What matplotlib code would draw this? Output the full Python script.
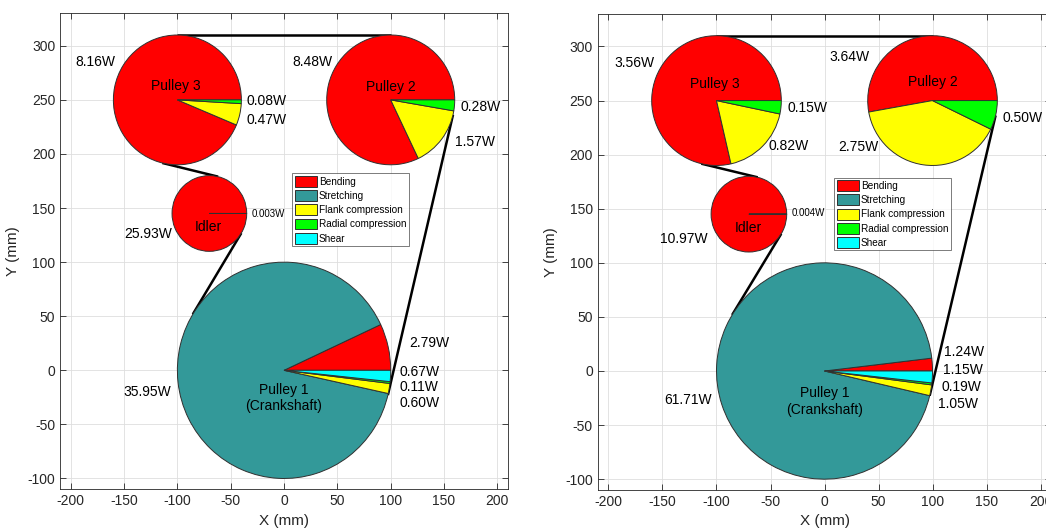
import numpy as np
import matplotlib
matplotlib.use("Agg")
import matplotlib.pyplot as plt
from matplotlib.patches import Patch

plt.rcParams['font.family'] = ['Liberation Sans', 'DejaVu Sans']
plt.rcParams['axes.unicode_minus'] = False

# Loss components (legend order)
categories = ["Bending", "Stretching", "Flank compression", "Radial compression", "Shear"]
cat_colors = ["#ff0000", "#339999", "#ffff00", "#00ff00", "#00ffff"]

# Drive geometry (mm)
pulley_names = ["Pulley 1\n(Crankshaft)", "Pulley 2", "Pulley 3", "Idler"]
center_x = [0, 100, -100, -70]
center_y = [0, 250, 250, 145]
radius = [100, 60, 60, 35]

# Power loss per pulley [W], ordered as `categories`
left_p1 = [2.79, 35.95, 0.60, 0.11, 0.67]
left_p2 = [8.48, 0.0, 1.57, 0.28, 0.0]
left_p3 = [8.16, 0.0, 0.47, 0.08, 0.0]
left_idler = [25.93, 0.0, 0.003, 0.0, 0.0]

right_p1 = [1.24, 61.71, 1.05, 0.19, 1.15]
right_p2 = [3.64, 0.0, 2.75, 0.50, 0.0]
right_p3 = [3.56, 0.0, 0.82, 0.15, 0.0]
right_idler = [10.97, 0.0, 0.004, 0.0, 0.0]

# Text placement for the value labels: (x, y, horizontal alignment) per non-zero slice
left_label_pos = [
    [(117, 25, "left"), (-106, -20, "right"), (108, -30.5, "left"), (108, -15.7, "left"), (108, -1.3, "left")],
    [(45, 284.7, "right"), (160.6, 211.5, "left"), (165.3, 243.8, "left")],
    [(-158.2, 284.7, "right"), (-35.3, 231.8, "left"), (-35.3, 248.7, "left")],
    [(-105, 126.4, "right"), (-30.7, 144.8, "left")],
]
right_label_pos = [
    [(110.8, 17.2, "left"), (-104.3, -26.6, "right"), (105.3, -30.3, "left"), (108.3, -14.8, "left"), (109.3, 0.6, "left")],
    [(41.4, 290.7, "right"), (49.7, 207.4, "right"), (164.9, 233.6, "left")],
    [(-157.7, 284.5, "right"), (-51.8, 207.7, "left"), (-34.2, 243.5, "left")],
    [(-108.3, 122.2, "right"), (-30.6, 146.3, "left")],
]
left_name_pos = [(0, -25.5), (100.6, 262.3), (-101.3, 263.2), (-70.7, 132.5)]
right_name_pos = [(0, -28.5), (100.6, 267.2), (-101.5, 265), (-70.6, 132.4)]

AX_COLOR = "#262626"


def tangent(c1, r1, c2, r2, cross, branch):
    """Belt span touching two circles (outer or crossed tangent)."""
    c1 = np.asarray(c1, float)
    c2 = np.asarray(c2, float)
    d = c2 - c1
    k = (r1 + r2) if cross else (r1 - r2)
    phi = np.arctan2(d[1], d[0])
    a = np.arccos(k / np.hypot(*d))
    t = phi + branch * a
    n = np.array([np.cos(t), np.sin(t)])
    p1 = c1 + r1 * n
    p2 = c2 + (-r2 if cross else r2) * n
    return p1, p2


def fmt(v):
    return f"{v:.3f}W" if v < 0.01 else f"{v:.2f}W"


def draw_panel(ax, series, label_pos, name_pos):
    centers = list(zip(center_x, center_y))
    # belt spans
    spans = [
        (2, 1, False, 1),   # Pulley 3 -> Pulley 2 (top)
        (1, 0, False, 1),   # Pulley 2 -> Pulley 1
        (0, 3, True, 1),    # Pulley 1 -> Idler
        (3, 2, True, -1),   # Idler -> Pulley 3
    ]
    for i, j, cross, br in spans:
        p1, p2 = tangent(centers[i], radius[i], centers[j], radius[j], cross, br)
        ax.plot([p1[0], p2[0]], [p1[1], p2[1]], color="black", lw=1.8, zorder=1,
                solid_capstyle="butt")

    for k, vals in enumerate(series):
        keep = [idx for idx, v in enumerate(vals) if v > 0]
        v = [vals[idx] for idx in keep]
        cols = [cat_colors[idx] for idx in keep]
        ax.pie(v, colors=cols, startangle=0, counterclock=True, radius=radius[k],
               center=centers[k], frame=True, normalize=True,
               wedgeprops=dict(edgecolor="#303030", linewidth=0.7))
        for val, (tx, ty, ha) in zip(v, label_pos[k]):
            small = val < 0.01
            ax.text(tx, ty, fmt(val), ha=ha, va="center",
                    fontsize=7 if small else 10, color="black", zorder=5)
        nx, ny = name_pos[k]
        ax.text(nx, ny, pulley_names[k], ha="center", va="center", fontsize=10,
                color="black", linespacing=1.25, zorder=5)

    ax.set_xlim(-210, 210)
    ax.set_ylim(-110, 330)
    ax.set_aspect("auto")
    ax.set_xticks(np.arange(-200, 201, 50))
    ax.set_yticks(np.arange(-100, 301, 50))
    ax.tick_params(direction="in", top=True, right=True, length=4, width=0.6,
                   labelsize=10, colors=AX_COLOR, labelcolor=AX_COLOR)
    for s in ax.spines.values():
        s.set_color(AX_COLOR)
        s.set_linewidth(0.6)
    ax.grid(True, color="#dedede", linewidth=0.6)
    ax.set_axisbelow(True)
    ax.set_xlabel("X (mm)", fontsize=11, color=AX_COLOR, labelpad=4)
    ax.set_ylabel("Y (mm)", fontsize=11, color=AX_COLOR, labelpad=5)


fig = plt.figure(figsize=(10.46, 5.30), dpi=100)
ax1 = fig.add_axes([0.0574, 0.0768, 0.4283, 0.898])
ax2 = fig.add_axes([0.5714, 0.0755, 0.4337, 0.898])

draw_panel(ax1, [left_p1, left_p2, left_p3, left_idler], left_label_pos, left_name_pos)
draw_panel(ax2, [right_p1, right_p2, right_p3, right_idler], right_label_pos, right_name_pos)

handles = [Patch(facecolor=c, edgecolor="#303030", linewidth=0.7) for c in cat_colors]
for ax, anchor in ((ax1, (7.8, 182)), (ax2, (9, 178.7))):
    leg = ax.legend(handles, categories, loc="upper left", bbox_to_anchor=anchor,
                    bbox_transform=ax.transData, fontsize=7.2, frameon=True,
                    fancybox=False, borderpad=0.25, labelspacing=0.33,
                    handlelength=2.2, handleheight=1.3, handletextpad=0.2,
                    borderaxespad=0)
    leg.get_frame().set_edgecolor("#404040")
    leg.get_frame().set_linewidth(0.6)

fig.savefig("out.png", dpi=100)
